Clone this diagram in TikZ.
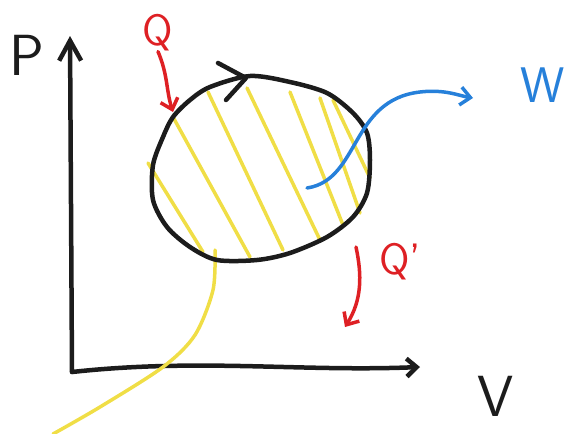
\documentclass[tikz,border=0pt]{standalone}
\usepackage{tikz}
\usetikzlibrary{arrows.meta}
\definecolor{ink}{RGB}{28,28,28}
\definecolor{penred}{RGB}{222,32,36}
\definecolor{penblue}{RGB}{38,128,218}
\definecolor{penyellow}{RGB}{240,222,70}
\tikzset{
  stroke/.style={line width=4.5pt,line cap=round,line join=round},
  hatch/.style={stroke,penyellow,line width=3.5pt},
  barb/.style={-{Straight Barb[length=10pt,width=18pt]}},
  lbl/.style={inner sep=0pt,font=\sffamily\fontsize{58}{58}\selectfont}
}
\begin{document}
\begin{tikzpicture}[x=1pt,y=-1pt]
    \useasboundingbox (0,0) rectangle (571,434);
        % axes
        \coordinate (O) at (72,372);
        \coordinate (ptop) at (70,36);
        \coordinate (vend) at (420,367);
        \draw[stroke,ink,-{Straight Barb[length=20pt,width=22pt]}](O)--(ptop);
        \draw[stroke,ink,barb](O)..controls (200,358) and (300,372)..(vend);
        \node[lbl,ink] (P) at (27,55) {P};
        \node[lbl,ink] (V) at (496,396) {V};
        % hatching inside the cycle
        \draw[hatch](148,163)--(203,252);
        \draw[hatch](173,117)--(250,257);
        \draw[hatch](208,92)--(283,250);
        \draw[hatch](247,88)--(320,240);
        \draw[hatch](290,92)--(343,225);
        \draw[hatch](320,98)--(360,213);
        \draw[hatch](333,100)--(370,178);
        \draw[hatch] plot[smooth] coordinates {(215,250) (213,290) (195,335) (163,367) (100,407) (53,434)};
        % the cycle
        \draw[stroke,ink] plot[smooth cycle] coordinates {(250,76) (290,82) (327,93) (353,113) (367,133) (370,160) (367,193) (353,217) (327,237) (290,253) (257,260) (217,260) (190,247) (167,227) (153,200) (153,165) (163,137) (173,117) (190,100) (210,87)};
        \draw[stroke,ink](218,63)--(246,78)--(226,100);
        % heat in
        \node[lbl,penred,font=\sffamily\fontsize{44}{44}\selectfont] (Q) at (158,33) {Q};
        \coordinate (qin) at (173,112);
        \draw[stroke,penred,line width=3.5pt,barb] (Q.south)..controls (168,75) and (166,90)..(qin);
        % heat out
        \coordinate (qout) at (356,247);
        \coordinate (qend) at (345,327);
        \draw[stroke,penred,line width=3.5pt,barb] (qout)..controls (362,275) and (362,300)..(qend);
        \node[lbl,penred,font=\sffamily\fontsize{44}{44}\selectfont] (Qp) at (400,262) {Q'};
        % work
        \coordinate (win) at (307,188);
        \coordinate (wout) at (473,98);
        \draw[stroke,penblue,line width=3.5pt,barb] (win)..controls (360,180) and (350,100)..(420,92)..controls (445,89) and (460,96)..(wout);
        \node[lbl,penblue,font=\sffamily\fontsize{50}{50}\selectfont] (W) at (543,85) {W};
    \end{tikzpicture}
\end{document}
